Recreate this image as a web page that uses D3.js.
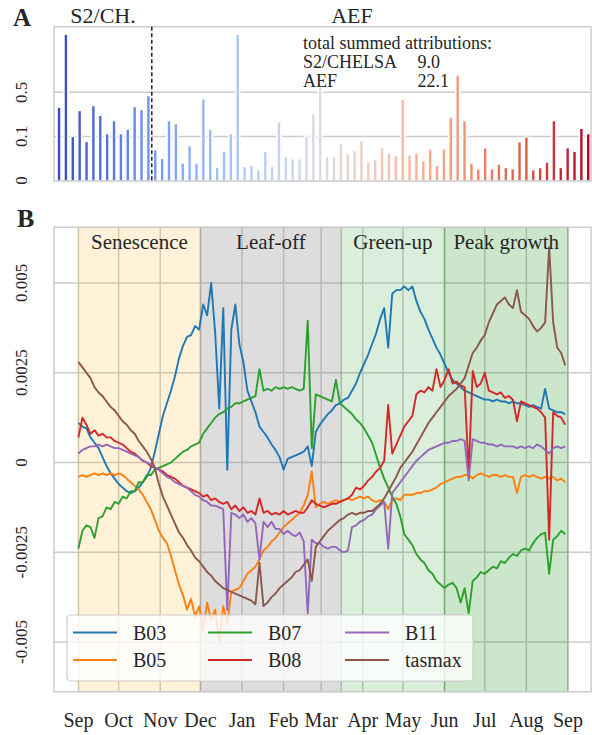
<!DOCTYPE html>
<html>
<head>
<meta charset="utf-8">
<script src="https://cdnjs.cloudflare.com/ajax/libs/d3/7.8.5/d3.min.js"></script>
<style>
	body { margin: 0; background: #fff; }
	svg text { font-family: 'Liberation Serif', 'Times New Roman', serif; fill: #262626; }
</style>
</head>
<body>
<div id="chart"></div>
<script>
// ---------------- DATA ----------------
// Panel A: mean attribution per input feature (14 S2/CHELSA features, then 64 AEF dims)
var attrS2 = [0.293, 3.20, 0.097, 0.261, 0.078, 0.311, 0.220, 0.109, 0.181, 0.109, 0.130, 0.300, 0.270, 0.438];
var attrAEF = [
	0.0525, 0.0319, 0.181, 0.162, 0.0231, 0.0641, 0.0231, 0.392, 0.130, 0.0158,
	0.0491, 0.109, 3.20, 0.0174, 0.0190, 0.0124, 0.0481, 0.0174, 0.172, 0.0362,
	0.0313, 0.0313, 0.099, 0.234, 0.580, 0.0362, 0.0362, 0.0705, 0.0440, 0.0507,
	0.0807, 0.0249, 0.0293, 0.0581, 0.0440, 0.0377, 0.385, 0.040, 0.0440, 0.0274,
	0.0545, 0.0190, 0.0545, 0.205, 0.853, 0.181, 0.0231, 0.0138, 0.0581, 0.0138,
	0.0214, 0.0158, 0.0138, 0.0772, 0.0949, 0.0124, 0.0158, 0.0249, 0.181, 0.0158,
	0.0581, 0.0481, 0.135, 0.109
];
var groupTitles = ['S2/CH.', 'AEF'];
var summedLabels = ['S2/CHELSA', 'AEF'];
var summedValues = ['9.0', '22.1'];
var attrTicks = [0, 0.1, 0.5];

// Panel B: attribution through the season, one value every 3 days from 1 Sep (units of 1e-4)
var seasonStart = new Date(2020, 8, 1);
var stepDays = 3;
var valueUnit = 1e-4;
var b03 = [
	11, 10, 9.5, 7, 5.5, 4, 1.5, -1, -3, -4.5,
	-6, -7, -8, -8.5, -8, -7, -5.5, -4, -1.5, 3,
	8, 13, 16.5, 20, 24, 29, 32.5, 35, 35.5, 38,
	37, 44, 41, 50, 36, 15, 43, -2, 37, 44,
	33, 28, 20, 17, 14, 10, 8.5, 7, 5, 3.5,
	1.5, -2, 1, 1.5, 2, 2.5, 3, 4.5, -1, 8.5,
	10.5, 12, 13.5, 14.5, 16, 16.5, 17.5, 18, 20, 22,
	25, 27.5, 30, 33, 36, 40, 43, 32, 47, 48,
	48, 49, 48, 49, 45, 42, 40, 37, 34.5, 32,
	30, 27.5, 25, 23, 22, 21, 20, 19.5, 19, 18.5,
	18, 17.5, 17.5, 17, 17.5, 17, 17, 16.5, 17, 16.5,
	16.5, 16, 15.5, 16, 15.5, 15, 20.5, 15, 14.5, 14,
	14, 13.5
];
var b05 = [
	-4, -3.5, -4, -3.5, -3, -3.5, -3, -3.5, -3, -3.5,
	-3, -3.5, -4.5, -5.5, -6.5, -7.5, -9, -11, -13, -16,
	-19, -21, -22.5, -26, -30, -34, -37, -41, -38, -43,
	-40, -47, -39, -44, -41, -50, -40, -45, -36, -35.5,
	-35, -33, -31, -30, -29, -27, -24.5, -23.5, -22, -21,
	-19.5, -18, -17, -16, -15, -14, -12, -9, -2.5, -12.5,
	-11.5, -11, -11.5, -11, -10.5, -11, -10.5, -10, -10.5, -10,
	-9.5, -10, -9.5, -10.5, -11, -10.5, -11, -13, -10.5, -10,
	-10.5, -9, -9, -9, -8.5, -8.5, -8, -8, -7.5, -7,
	-6, -5.5, -5, -4.5, -4, -4, -3.5, -3.5, -4.5, -3.5,
	-3, -3.5, -4, -3.5, -3.5, -4, -3.5, -4, -4, -8.5,
	-4, -3.5, -4, -3.5, -4, -4.5, -4, -4.5, -4, -5,
	-4.5, -5.5
];
var b07 = [
	-24, -19, -17.5, -18, -21, -15.5, -15, -12.5, -13, -11,
	-11.5, -9.5, -10, -8, -8, -5.5, -5.5, -3.5, -3.5, -2,
	-1.5, -1, -0.5, 0, 1, 2, 3, 3.5, 4.5, 5,
	5.5, 8, 9.5, 11, 12.5, 13.5, 14, 15, 15.5, 16.5,
	16.5, 17, 17.5, 18, 18.5, 26, 20, 20.5, 20, 21,
	20.5, 21, 20.5, 21, 20.5, 20, 20.5, 39.5, 4, 19,
	18.5, 18, 17.5, 17, 23, 16.5, 15.5, 14.5, 13.5, 12,
	11, 9.5, 7.5, 5.5, 2, -1.5, -4.5, -7, -9.5, -11.5,
	-15, -20, -21.5, -23, -25.5, -27, -28, -30, -31, -33,
	-34, -35, -34, -33.5, -35, -39, -35, -42, -33, -32,
	-30.5, -31, -30, -29, -29.5, -27.5, -28, -26.5, -25.5, -26,
	-24.5, -24, -24.5, -22.5, -21, -20, -19.5, -31, -21.5, -20.5,
	-19, -20
];
var b08 = [
	7, 12.5, 10.5, 8, 9, 7.5, 8, 7, 7, 6,
	5.5, 5, 4, 3, 2.5, 1.5, 0.5, 0, -1, -1.5,
	-2, -2.5, -3.5, -4, -4.5, -5.5, -6.5, -7, -7.5, -8,
	-8.5, -9.5, -9, -10.5, -10, -11, -11.5, -11, -13, -12,
	-13.5, -12.5, -14, -13.5, -14.5, -10, -14, -13.5, -14.5, -14,
	-14.5, -13.5, -14.5, -14, -13.5, -14, -14, -12.5, -10.5, -11.5,
	-12, -12.5, -12, -11.5, -11.5, -11, -10.5, -10, -9, -7,
	-7.5, -6.5, -5, -4, -2.5, -1.5, 0.5, 16, 2.5, 5,
	7.5, 10, 11.5, 13, 19, 20, 19.5, 21, 20, 26,
	21, 23, 26, 22, 22.5, 21.5, 21, -3, 25.5, 21,
	22, 25, 20, 19.5, 19, 19.5, 18, 18.5, 17.5, 11.5,
	17, 16.5, 16, 15.5, 15, 14, 12.5, -21.5, 14, 13,
	12.5, 10.5
];
var b11 = [
	2.5, 3.5, 4, 4.5, 4.5, 5, 4.5, 5, 4.5, 4,
	4, 3.5, 3, 2.5, 2, 1.5, 0.5, 0, -0.5, -1.5,
	-2, -3, -4, -4.5, -5.5, -6, -6.5, -7, -8, -9,
	-9.5, -10.5, -11, -12, -12, -12.5, -13, -41, -14, -14.5,
	-15.5, -14.5, -16.5, -15.5, -17, -27, -16.5, -18, -16.5, -18.5,
	-18.5, -20, -19, -20, -20.5, -19.5, -22, -42, -21.5, -22.5,
	-22.5, -23.5, -24, -23.5, -23.5, -24.5, -25, -24.5, -18, -17.5,
	-16.5, -16, -15, -14.5, -13, -12, -11, -24, -8.5, -7,
	-5.5, -4, -2.5, -1, 0.5, 1.5, 2.5, 3.5, 4, 4.5,
	5, 5.5, 5.5, 6, 6, 6.5, 6, -5, 6.5, 6,
	5.5, 5.5, 5, 5, 4.5, 5, 4.5, 4.5, 4.5, 4,
	4.5, 4, 4.5, 4, 5, 4.5, 3.5, 2.5, 4, 4.5,
	4, 4.5
];
var tasmax = [
	28, 26.5, 25, 23.5, 21, 19.5, 18.5, 17, 15.5, 14.5,
	13, 11.5, 10.5, 9, 8, 6, 4.5, 3, 1, -1.5,
	-6, -9.5, -12, -14.5, -17, -19.5, -21, -23, -24.5, -26.5,
	-27.5, -29, -30.5, -31.5, -33, -34, -35, -35.5, -36, -36.5,
	-37, -37.5, -38, -38.5, -39.5, -28, -40, -39, -37.5, -36.5,
	-35, -34, -33, -32, -30.5, -30, -28.5, -27, -33, -23.5,
	-22, -20.5, -19, -18, -17, -16, -15.5, -14.5, -14, -14.5,
	-14, -14, -13.5, -13.5, -12.5, -11.5, -10, -8, -6, -4,
	-1.5, 0, 1.5, 3, 5, 7, 9, 11, 12.5, 14,
	15.5, 17, 18.5, 19.5, 20.5, 22, 23.5, 27, 30.5, 32,
	34, 35.5, 39, 41.5, 44, 45, 46, 44, 43, 48,
	42, 41, 40, 38, 36.5, 37.5, 39, 60, 39, 32,
	30.5, 27
];
var seriesNames = ['B03', 'B05', 'B07', 'B08', 'B11', 'tasmax'];
var seriesValues = [b03, b05, b07, b08, b11, tasmax];

var phaseNames = ['Senescence', 'Leaf-off', 'Green-up', 'Peak growth'];
var phaseStarts = [new Date(2020, 8, 1), new Date(2020, 11, 1), new Date(2021, 2, 16), new Date(2021, 5, 1)];
var phaseEnds = [new Date(2020, 11, 1), new Date(2021, 2, 16), new Date(2021, 5, 1), new Date(2021, 8, 1)];

var valueTicks = [0.005, 0.0025, 0, -0.0025, -0.005];
var valueTickLabels = ['0.005', '0.0025', '0', '-0.0025', '-0.005'];

// ---------------- STYLE ----------------
var attrs = {
	svgWidth: 592,
	svgHeight: 735,
	font: "'Liberation Serif', 'Times New Roman', serif",
	gridColor: '#cccccc',
	textColor: '#262626',
	lineColors: ['#1f77b4', '#ff7f0e', '#2ca02c', '#d62728', '#9467bd', '#8c564b'],
	phaseColors: ['#ffa500', '#808080', '#008000', '#008000'],
	phaseAlpha: [0.15, 0.27, 0.14, 0.2],
	// matplotlib coolwarm anchors
	coolwarm: ['#3b4cc0', '#6282ea', '#8db0fe', '#b8d0f9', '#dddcdc', '#f5c4ad', '#f49a7b', '#de604d', '#b40426']
};

var svg = d3.select('#chart').append('svg')
	.attr('width', attrs.svgWidth)
	.attr('height', attrs.svgHeight)
	.attr('font-family', attrs.font);

svg.append('rect').attr('width', attrs.svgWidth).attr('height', attrs.svgHeight).attr('fill', '#fff');

// ================= PANEL A =================
var A = { left: 54, right: 591, top: 26.7, bottom: 181 };
var attrAll = attrS2.concat(attrAEF);

var xA = d3.scaleBand()
	.domain(d3.range(attrAll.length))
	.range([55.6, 591.7])
	.padding(0);

var yA = d3.scaleSymlog()
	.constant(1 / 30)
	.domain([0, 4.16])
	.range([180.5, A.top]);

var colorA = d3.scaleLinear()
	.domain(d3.range(attrs.coolwarm.length).map(d => d / (attrs.coolwarm.length - 1)))
	.range(attrs.coolwarm)
	.interpolate(d3.interpolateRgb);

var gA = svg.append('g');

// grid
gA.selectAll('.gridA').data(attrTicks.filter(d => d > 0)).enter().append('line')
	.attr('x1', A.left).attr('x2', A.right)
	.attr('y1', d => yA(d)).attr('y2', d => yA(d))
	.attr('stroke', attrs.gridColor).attr('stroke-width', 1.5);

// white halo behind bars, then the bars
var barW = 2.4;
gA.selectAll('.halo').data(attrAll).enter().append('rect')
	.attr('x', (d, i) => xA(i) + xA.bandwidth() / 2 - barW / 2 - 1.6)
	.attr('width', barW + 3.2)
	.attr('y', d => yA(d) - 1)
	.attr('height', d => yA(0) - yA(d) + 1)
	.attr('fill', '#fff');

gA.selectAll('.bar').data(attrAll).enter().append('rect')
	.attr('x', (d, i) => xA(i) + xA.bandwidth() / 2 - barW / 2)
	.attr('width', barW)
	.attr('y', d => yA(d))
	.attr('height', d => yA(0) - yA(d))
	.attr('fill', (d, i) => colorA(i / (attrAll.length - 1)));

// frame
gA.append('rect')
	.attr('x', A.left).attr('y', A.top)
	.attr('width', A.right - A.left).attr('height', A.bottom - A.top)
	.attr('fill', 'none').attr('stroke', attrs.gridColor).attr('stroke-width', 1.5);

// separator between S2/CHELSA and AEF
var sepX = xA(attrS2.length);
gA.append('line')
	.attr('x1', sepX).attr('x2', sepX)
	.attr('y1', A.top).attr('y2', A.bottom)
	.attr('stroke', '#000').attr('stroke-width', 1.3)
	.attr('stroke-dasharray', '4,2.5');

// y tick labels (rotated)
gA.selectAll('.tickA').data(attrTicks).enter().append('text')
	.attr('transform', d => 'translate(27,' + yA(d) + ') rotate(-90)')
	.attr('text-anchor', 'middle')
	.style('font-size', '17px')
	.text(d => d);

// titles
gA.append('text').attr('x', 13).attr('y', 26).style('font-size', '25px').style('font-weight', 'bold').text('A');
gA.append('text').attr('x', 103).attr('y', 23).attr('text-anchor', 'middle').style('font-size', '22px').text(groupTitles[0]);
gA.append('text').attr('x', 352).attr('y', 23).attr('text-anchor', 'middle').style('font-size', '22px').text(groupTitles[1]);

// summed attributions
var sumG = gA.append('g').style('font-size', '18px');
sumG.append('text').attr('x', 303).attr('y', 48.5).text('total summed attributions:');
summedLabels.forEach(function (lbl, i) {
	sumG.append('text').attr('x', 303).attr('y', 67.8 + i * 19.3).text(lbl);
	sumG.append('text').attr('x', 417.5).attr('y', 67.8 + i * 19.3).text(summedValues[i]);
});

// ================= PANEL B =================
var B = { left: 54, right: 591, top: 227.3, bottom: 691.7 };
var dates = b03.map((d, i) => d3.timeDay.offset(seasonStart, i * stepDays));
var seasonEnd = new Date(2021, 7, 31);
var pad = (seasonEnd - seasonStart) * 0.05;

var xB = d3.scaleTime()
	.domain([new Date(+seasonStart - pad), new Date(+seasonEnd + pad)])
	.range([B.left, B.right]);

var yB = d3.scaleLinear()
	.domain([-0.006384, 0.006551])
	.range([B.bottom, B.top]);

var monthTicks = d3.timeMonth.range(seasonStart, new Date(2021, 8, 2));

var gB = svg.append('g');

// clip for plot area
svg.append('defs').append('clipPath').attr('id', 'clipB')
	.append('rect').attr('x', B.left).attr('y', B.top)
	.attr('width', B.right - B.left).attr('height', B.bottom - B.top);

// grid
gB.selectAll('.hgrid').data(valueTicks).enter().append('line')
	.attr('x1', B.left).attr('x2', B.right)
	.attr('y1', d => yB(d)).attr('y2', d => yB(d))
	.attr('stroke', attrs.gridColor).attr('stroke-width', 1.5);
gB.selectAll('.vgrid').data(monthTicks).enter().append('line')
	.attr('x1', d => xB(d)).attr('x2', d => xB(d))
	.attr('y1', B.top).attr('y2', B.bottom)
	.attr('stroke', attrs.gridColor).attr('stroke-width', 1.5);

// phase spans
gB.selectAll('.phase').data(phaseNames).enter().append('rect')
	.attr('x', (d, i) => xB(phaseStarts[i]))
	.attr('width', (d, i) => xB(phaseEnds[i]) - xB(phaseStarts[i]))
	.attr('y', B.top).attr('height', B.bottom - B.top)
	.attr('fill', (d, i) => attrs.phaseColors[i])
	.attr('fill-opacity', (d, i) => attrs.phaseAlpha[i])
	.attr('stroke', (d, i) => attrs.phaseColors[i])
	.attr('stroke-opacity', (d, i) => attrs.phaseAlpha[i])
	.attr('stroke-width', 1.5);

// frame
gB.append('rect')
	.attr('x', B.left).attr('y', B.top)
	.attr('width', B.right - B.left).attr('height', B.bottom - B.top)
	.attr('fill', 'none').attr('stroke', attrs.gridColor).attr('stroke-width', 1.5);

// series
var line = d3.line()
	.x((d, i) => xB(dates[i]))
	.y(d => yB(d * valueUnit));

gB.append('g').attr('clip-path', 'url(#clipB)')
	.selectAll('path').data(seriesValues).enter().append('path')
	.attr('d', d => line(d))
	.attr('fill', 'none')
	.attr('stroke', (d, i) => attrs.lineColors[i])
	.attr('stroke-width', 1.9)
	.attr('stroke-linejoin', 'round');

// phase labels
gB.selectAll('.phaseLabel').data(phaseNames).enter().append('text')
	.attr('x', (d, i) => (xB(phaseStarts[i]) + xB(phaseEnds[i])) / 2)
	.attr('y', 249)
	.attr('text-anchor', 'middle')
	.style('font-size', '21px')
	.text(d => d);

// axes labels
gB.selectAll('.tickB').data(valueTicks).enter().append('text')
	.attr('transform', d => 'translate(27,' + yB(d) + ') rotate(-90)')
	.attr('text-anchor', 'middle')
	.style('font-size', '17px')
	.text((d, i) => valueTickLabels[i]);

gB.selectAll('.monthLabel').data(monthTicks).enter().append('text')
	.attr('x', d => xB(d))
	.attr('y', 727)
	.attr('text-anchor', 'middle')
	.style('font-size', '20px')
	.text(d => d3.timeFormat('%b')(d));

gB.append('text').attr('x', 17).attr('y', 227).style('font-size', '26px').style('font-weight', 'bold').text('B');

// legend (column first, 3 columns)
var legend = gB.append('g');
legend.append('rect')
	.attr('x', 67).attr('y', 615).attr('width', 406).attr('height', 66).attr('rx', 4)
	.attr('fill', '#fff').attr('fill-opacity', 0.8)
	.attr('stroke', attrs.gridColor).attr('stroke-width', 1.2);

var colX = [73, 208, 345];
var rowY = [632.5, 660];
seriesNames.forEach(function (name, i) {
	var cx = colX[Math.floor(i / 2)], cy = rowY[i % 2];
	legend.append('line')
		.attr('x1', cx).attr('x2', cx + 44)
		.attr('y1', cy).attr('y2', cy)
		.attr('stroke', attrs.lineColors[i]).attr('stroke-width', 2);
	legend.append('text')
		.attr('x', cx + 60).attr('y', cy + 7)
		.style('font-size', '20px')
		.text(name);
});
</script>
</body>
</html>
